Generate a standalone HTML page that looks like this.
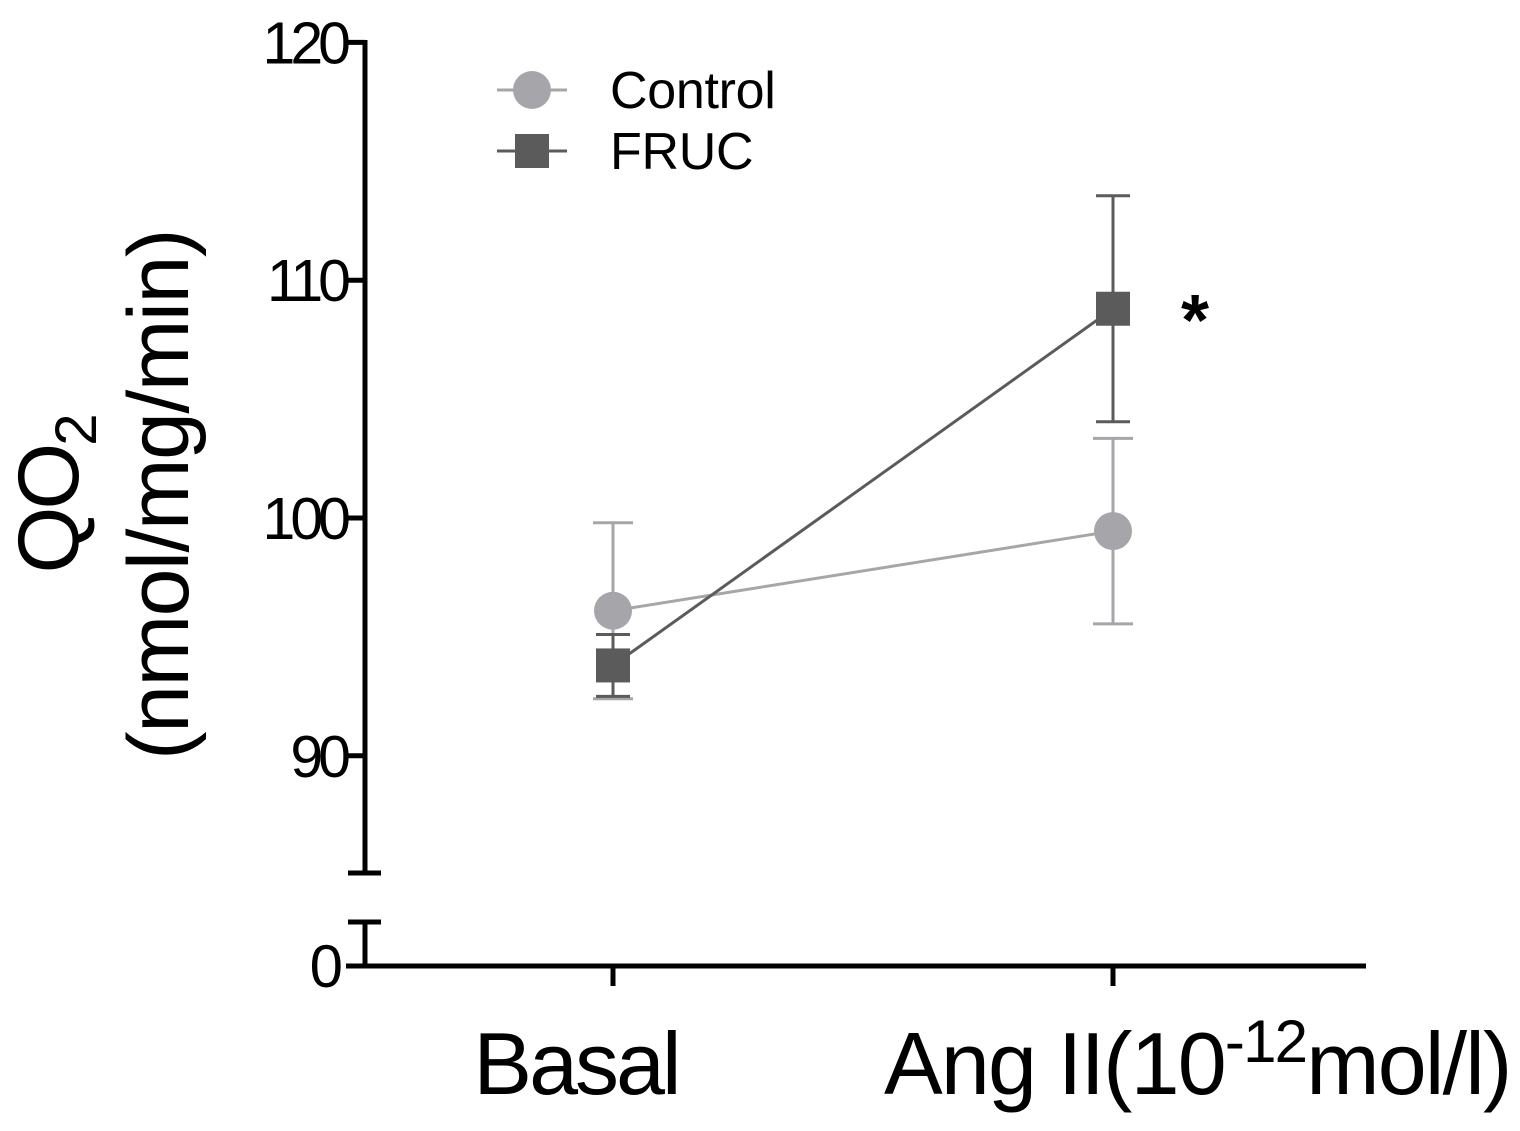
<!DOCTYPE html>
<html><head><meta charset="utf-8"><style>
html,body{margin:0;padding:0;background:#fff;}
svg{display:block;font-family:"Liberation Sans",sans-serif;}
</style></head><body>
<svg id="chart" width="1520" height="1131" viewBox="0 0 1520 1131" xmlns="http://www.w3.org/2000/svg">
<g id="axes"></g>
<g id="marks"></g>
</svg>
<script>
const categories = ["Basal", "Ang II"];
const controlMean = [96.1, 99.45];
const controlErr = [3.7, 3.9];
const frucMean = [93.8, 108.8];
const frucErr = [1.3, 4.75];
const yTicks = [90, 100, 110, 120];

const NS = "http://www.w3.org/2000/svg";
const axes = document.getElementById('axes');
const marks = document.getElementById('marks');
function yScale(v){ return 518 - (v - 100) * 23.78; }
function xScale(i){ return 613 + i * 500; }
function mk(tag, attrs, parent){
  const e = document.createElementNS(NS, tag);
  for (const k in attrs) e.setAttribute(k, attrs[k]);
  parent.appendChild(e);
  return e;
}

let e = mk('line', {x1:365,y1:40,x2:365,y2:875,stroke:'#000','stroke-width':5}, axes);


e = mk('line', {x1:348,y1:873,x2:381,y2:873,stroke:'#000','stroke-width':5}, axes);


e = mk('line', {x1:365,y1:921,x2:365,y2:968,stroke:'#000','stroke-width':5}, axes);


e = mk('line', {x1:348,y1:922,x2:381,y2:922,stroke:'#000','stroke-width':5}, axes);


e = mk('line', {x1:346,y1:966,x2:1366,y2:966,stroke:'#000','stroke-width':5}, axes);


e = mk('text', {x:343,y:987,'font-size':60,'text-anchor':'end'}, axes);
e.textContent = '0';



yTicks.forEach(v => {
  const y = yScale(v);
  let t = mk('line', {x1:346,y1:y,x2:365,y2:y,stroke:'#000','stroke-width':5}, axes);
  
  
  let l = mk('text', {x:346,y:y+21,'font-size':59,'text-anchor':'end','letter-spacing':-5}, axes);
  l.textContent = String(v);
  
  
});
categories.forEach((c, i) => {
  const x = xScale(i);
  let t = mk('line', {x1:x,y1:966,x2:x,y2:986,stroke:'#000','stroke-width':5}, axes);
  
  
});
e = mk('text', {x:576,y:1094,'font-size':88,'text-anchor':'middle','letter-spacing':-3}, axes);
e.textContent = 'Basal';


e = mk('text', {x:884,y:1094,'font-size':88,'letter-spacing':-1.8}, axes);
e.innerHTML = 'Ang II(10<tspan font-size="60" dy="-32">-12</tspan><tspan dy="32">mol/l)</tspan>';


e = mk('text', {transform:'translate(78,495) rotate(-90)','font-size':86,'text-anchor':'middle','letter-spacing':-3}, axes);
e.innerHTML = 'QO<tspan font-size="58" dy="18">2</tspan>';


e = mk('text', {transform:'translate(188,495) rotate(-90)','font-size':86,'text-anchor':'middle','letter-spacing':-1.5}, axes);
e.textContent = '(nmol/mg/min)';



function series(mean, err, color, shape, name, capW){
  const pts = mean.map((v,i)=>xScale(i)+','+yScale(v)).join(' ');
  let pl = mk('polyline', {points:pts,fill:'none',stroke:color,'stroke-width':3}, marks);
  
  
  mean.forEach((v,i)=>{
    const x = xScale(i), top = yScale(v+err[i]), bot = yScale(v-err[i]);
    let g = mk('g', {}, marks);
    
    
    mk('line', {x1:x,y1:top,x2:x,y2:bot,stroke:color,'stroke-width':3}, g);
    mk('line', {x1:x-capW,y1:top,x2:x+capW,y2:top,stroke:color,'stroke-width':3}, g);
    mk('line', {x1:x-capW,y1:bot,x2:x+capW,y2:bot,stroke:color,'stroke-width':3}, g);
    let p;
    if (shape === 'circle') p = mk('circle', {cx:x,cy:yScale(v),r:19,fill:color}, marks);
    else p = mk('rect', {x:x-17,y:yScale(v)-17,width:34,height:34,fill:color}, marks);
    
    
  });
}
series(controlMean, controlErr, '#a6a5aa', 'circle', 'control', 20);
series(frucMean, frucErr, '#5b5b5b', 'square', 'fruc', 17);

e = mk('text', {x:1195,y:345,'font-size':72,'font-weight':'bold','text-anchor':'middle'}, marks);
e.textContent = '*';



let lg = mk('g', {}, marks);


mk('line', {x1:497,y1:90,x2:567,y2:90,stroke:'#a6a5aa','stroke-width':3}, lg);
mk('circle', {cx:532,cy:90,r:19,fill:'#a6a5aa'}, lg);
let t1 = mk('text', {x:610,y:108,'font-size':52,'letter-spacing':-0.3}, lg);
t1.textContent = 'Control';


mk('line', {x1:497,y1:151,x2:567,y2:151,stroke:'#5b5b5b','stroke-width':3}, lg);
mk('rect', {x:515,y:134,width:34,height:34,fill:'#5b5b5b'}, lg);
let t2 = mk('text', {x:610,y:169,'font-size':52,'letter-spacing':-0.3}, lg);
t2.textContent = 'FRUC';


</script>
</body></html>
